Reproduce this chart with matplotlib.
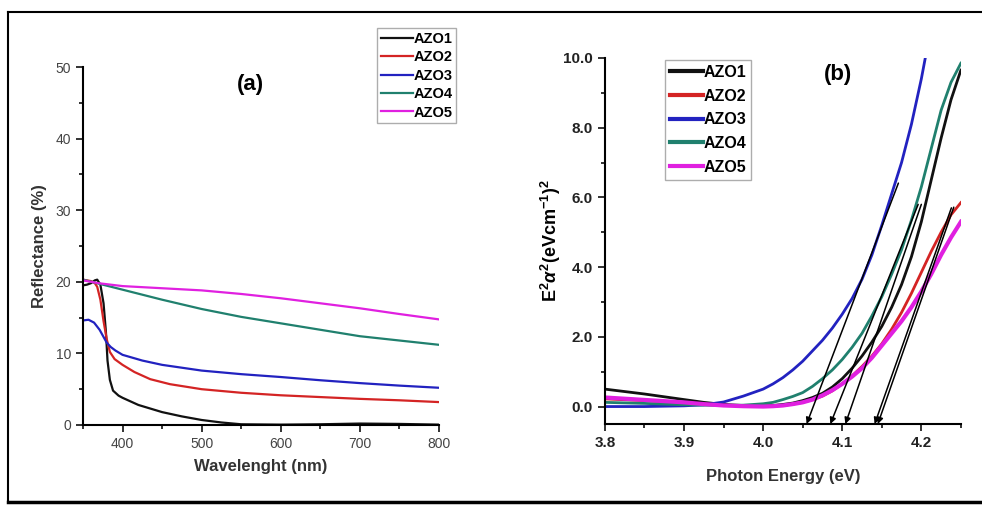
import matplotlib
matplotlib.use("Agg")
import matplotlib.pyplot as plt
from matplotlib.ticker import MultipleLocator, FormatStrFormatter
from matplotlib.lines import Line2D

plt.rcParams['font.family'] = ['Liberation Sans', 'DejaVu Sans']
plt.rcParams['mathtext.fontset'] = 'custom'
plt.rcParams['mathtext.rm'] = 'Liberation Sans:bold'
plt.rcParams['mathtext.it'] = 'Liberation Sans:bold:italic'
plt.rcParams['mathtext.bf'] = 'Liberation Sans:bold'

labels = ['AZO1', 'AZO2', 'AZO3', 'AZO4', 'AZO5']
colors = ['#111111', '#d42424', '#2222c0', '#20806e', '#e020e0']

# (a) reflectance vs wavelength
wl1 = [350, 355, 360, 365, 368, 372, 376, 379, 381, 384, 388, 395, 400, 420, 450, 475, 500, 525, 550, 600, 650, 700, 750, 800]
r1 = [19.5, 19.6, 19.8, 20.2, 20.3, 19.6, 17.0, 13.0, 9.0, 6.3, 4.8, 4.1, 3.8, 2.8, 1.8, 1.2, 0.7, 0.35, 0.1, 0.05, 0.1, 0.2, 0.15, 0.05]
wl2 = [350, 355, 360, 365, 368, 372, 376, 380, 384, 390, 400, 415, 435, 460, 500, 550, 600, 650, 700, 750, 800]
r2 = [20.3, 20.2, 20.1, 19.8, 19.3, 17.5, 14.5, 12.0, 10.2, 9.2, 8.4, 7.4, 6.4, 5.7, 5.0, 4.5, 4.15, 3.9, 3.65, 3.45, 3.2]
wl3 = [350, 357, 364, 371, 376, 380, 385, 391, 400, 425, 450, 500, 550, 600, 650, 700, 750, 800]
r3 = [14.6, 14.7, 14.3, 13.3, 12.3, 11.5, 10.9, 10.4, 9.8, 9.0, 8.4, 7.6, 7.1, 6.7, 6.25, 5.85, 5.5, 5.2]
wl4 = [350, 375, 400, 450, 500, 550, 600, 650, 700, 750, 800]
r4 = [20.3, 19.6, 18.9, 17.5, 16.2, 15.1, 14.2, 13.3, 12.4, 11.8, 11.2]
wl5 = [350, 370, 400, 450, 500, 550, 600, 650, 700, 750, 800]
r5 = [20.2, 19.8, 19.4, 19.1, 18.8, 18.3, 17.7, 17.0, 16.3, 15.5, 14.75]

# (b) (E*alpha)^2 vs photon energy
energy = [3.8, 3.85, 3.9, 3.925, 3.95, 3.975, 4.0, 4.0125, 4.025, 4.0375, 4.05, 4.0625, 4.075, 4.0875,
          4.1, 4.1125, 4.125, 4.1375, 4.15, 4.1625, 4.175, 4.1875, 4.2, 4.2125, 4.225, 4.2375, 4.25]
ea1 = [0.5, 0.36, 0.2, 0.12, 0.06, 0.03, 0.02, 0.03, 0.06, 0.1, 0.17, 0.26, 0.38, 0.56,
       0.8, 1.1, 1.45, 1.85, 2.3, 2.85, 3.5, 4.3, 5.3, 6.5, 7.7, 8.8, 9.65]
ea2 = [0.22, 0.17, 0.1, 0.07, 0.04, 0.02, 0.01, 0.015, 0.03, 0.07, 0.12, 0.2, 0.3, 0.45,
       0.65, 0.88, 1.15, 1.45, 1.8, 2.22, 2.7, 3.25, 3.85, 4.45, 5.0, 5.5, 5.85]
energy3 = [3.8, 3.85, 3.9, 3.925, 3.95, 3.975, 4.0, 4.0125, 4.025, 4.0375, 4.05, 4.0625, 4.075, 4.0875,
           4.1, 4.1125, 4.125, 4.1375, 4.15, 4.1625, 4.175, 4.1875, 4.2, 4.205]
ea3 = [0.0, 0.0, 0.02, 0.05, 0.13, 0.3, 0.5, 0.65, 0.83, 1.05, 1.3, 1.6, 1.9, 2.25,
       2.65, 3.1, 3.65, 4.35, 5.2, 6.1, 7.0, 8.1, 9.4, 10.0]
ea4 = [0.12, 0.09, 0.05, 0.04, 0.03, 0.04, 0.08, 0.12, 0.2, 0.29, 0.4, 0.58, 0.8, 1.05,
       1.35, 1.7, 2.1, 2.6, 3.15, 3.8, 4.5, 5.35, 6.3, 7.4, 8.5, 9.3, 9.85]
ea5 = [0.26, 0.19, 0.12, 0.07, 0.03, 0.01, 0.0, 0.01, 0.03, 0.07, 0.12, 0.2, 0.32, 0.47,
       0.65, 0.86, 1.1, 1.4, 1.75, 2.1, 2.45, 2.85, 3.3, 3.8, 4.35, 4.85, 5.3]

# tangent lines (start point -> intercept on the axis)
tan_x0 = [4.171, 4.196, 4.200, 4.238, 4.241]
tan_y0 = [6.41, 5.80, 5.80, 5.70, 5.72]
tan_x1 = [4.055, 4.085, 4.104, 4.141, 4.145]
tan_y1 = [-0.5, -0.5, -0.5, -0.5, -0.5]

fig = plt.figure(figsize=(9.82, 5.08), dpi=100)
ax1 = fig.add_axes([0.0845, 0.1634, 0.3625, 0.7047])
ax2 = fig.add_axes([0.616, 0.1654, 0.3625, 0.7205])

# frame around the figure (no right edge)
for xs, ys, w in [([0.008, 1.0], [0.976, 0.976], 1.5),
                  ([0.008, 0.008], [0.016, 0.976], 1.5),
                  ([0.008, 1.0], [0.012, 0.012], 2.5)]:
    fig.add_artist(Line2D(xs, ys, transform=fig.transFigure, color='black', lw=w))

# panel a
for x, y, c, lab in zip([wl1, wl2, wl3, wl4, wl5], [r1, r2, r3, r4, r5], colors, labels):
    ax1.plot(x, y, color=c, lw=1.6, label=lab)
ax1.set_xlim(350, 800)
ax1.set_ylim(0, 50)
ax1.xaxis.set_major_locator(MultipleLocator(100))
ax1.xaxis.set_minor_locator(MultipleLocator(50))
ax1.yaxis.set_major_locator(MultipleLocator(10))
ax1.yaxis.set_minor_locator(MultipleLocator(5))
ax1.tick_params(which='major', length=5, width=1.3, labelsize=10, colors='#222222', labelcolor='#444444')
ax1.tick_params(which='minor', length=3, width=1.3, colors='#222222')
ax1.set_xlabel('Wavelenght (nm)', fontsize=12, fontweight='bold', color='#333333', labelpad=6)
ax1.set_ylabel('Reflectance (%)', fontsize=12, fontweight='bold', color='#333333', labelpad=6)
ax1.text(0.47, 0.95, '(a)', transform=ax1.transAxes, ha='center', va='center', fontsize=16, fontweight='bold')
leg1 = ax1.legend(loc='upper left', bbox_to_anchor=(0.384, 0.944), bbox_transform=fig.transFigure,
                  fancybox=False, edgecolor='#999999', handlelength=2.2, handletextpad=0.05,
                  borderpad=0.25, labelspacing=0.3, borderaxespad=0,
                  prop={'weight': 'bold', 'size': 10.5})
leg1.get_frame().set_linewidth(1.0)

# panel b
for x, y, c, lab, w in zip([energy, energy, energy3, energy, energy], [ea1, ea2, ea3, ea4, ea5],
                           colors, labels, [2.0, 2.0, 2.0, 2.0, 3.0]):
    ax2.plot(x, y, color=c, lw=w, label=lab)
for xa, ya, xb, yb in zip(tan_x0, tan_y0, tan_x1, tan_y1):
    ax2.annotate('', xy=(xb, yb), xytext=(xa, ya),
                 arrowprops=dict(arrowstyle='-|>', color='black', lw=1.1, mutation_scale=9,
                                 shrinkA=0, shrinkB=0))
ax2.set_xlim(3.8, 4.25)
ax2.set_ylim(-0.5, 10.0)
ax2.xaxis.set_major_locator(MultipleLocator(0.1))
ax2.xaxis.set_minor_locator(MultipleLocator(0.05))
ax2.yaxis.set_major_locator(MultipleLocator(2))
ax2.yaxis.set_minor_locator(MultipleLocator(1))
ax2.xaxis.set_major_formatter(FormatStrFormatter('%.1f'))
ax2.yaxis.set_major_formatter(FormatStrFormatter('%.1f'))
ax2.tick_params(which='major', length=5, width=1.3, labelsize=11, colors='#222222')
ax2.tick_params(which='minor', length=3, width=1.3, colors='#222222')
for t in ax2.get_xticklabels() + ax2.get_yticklabels():
    t.set_fontweight('bold')
ax2.set_xlabel('Photon Energy (eV)', fontsize=12, fontweight='bold', color='#333333', labelpad=14)
ax2.set_ylabel(r'E$^{2}$$\alpha^{2}$(eVcm$^{-1}$)$^{2}$', fontsize=13, fontweight='bold', labelpad=0)
ax2.text(0.655, 0.955, '(b)', transform=ax2.transAxes, ha='center', va='center', fontsize=16, fontweight='bold')
leg2 = ax2.legend(loc='upper left', bbox_to_anchor=(0.677, 0.882), bbox_transform=fig.transFigure,
                  fancybox=False, edgecolor='#999999', handlelength=2.1, handletextpad=0.05,
                  borderpad=0.3, labelspacing=0.55, borderaxespad=0,
                  prop={'weight': 'bold', 'size': 11.5})
for h in leg2.get_lines():
    h.set_linewidth(3)
leg2.get_frame().set_linewidth(1.0)

for ax in (ax1, ax2):
    ax.spines['top'].set_visible(False)
    ax.spines['right'].set_visible(False)
    ax.spines['left'].set_linewidth(1.5)
    ax.spines['bottom'].set_linewidth(1.5)

plt.savefig('out.png', dpi=100)
